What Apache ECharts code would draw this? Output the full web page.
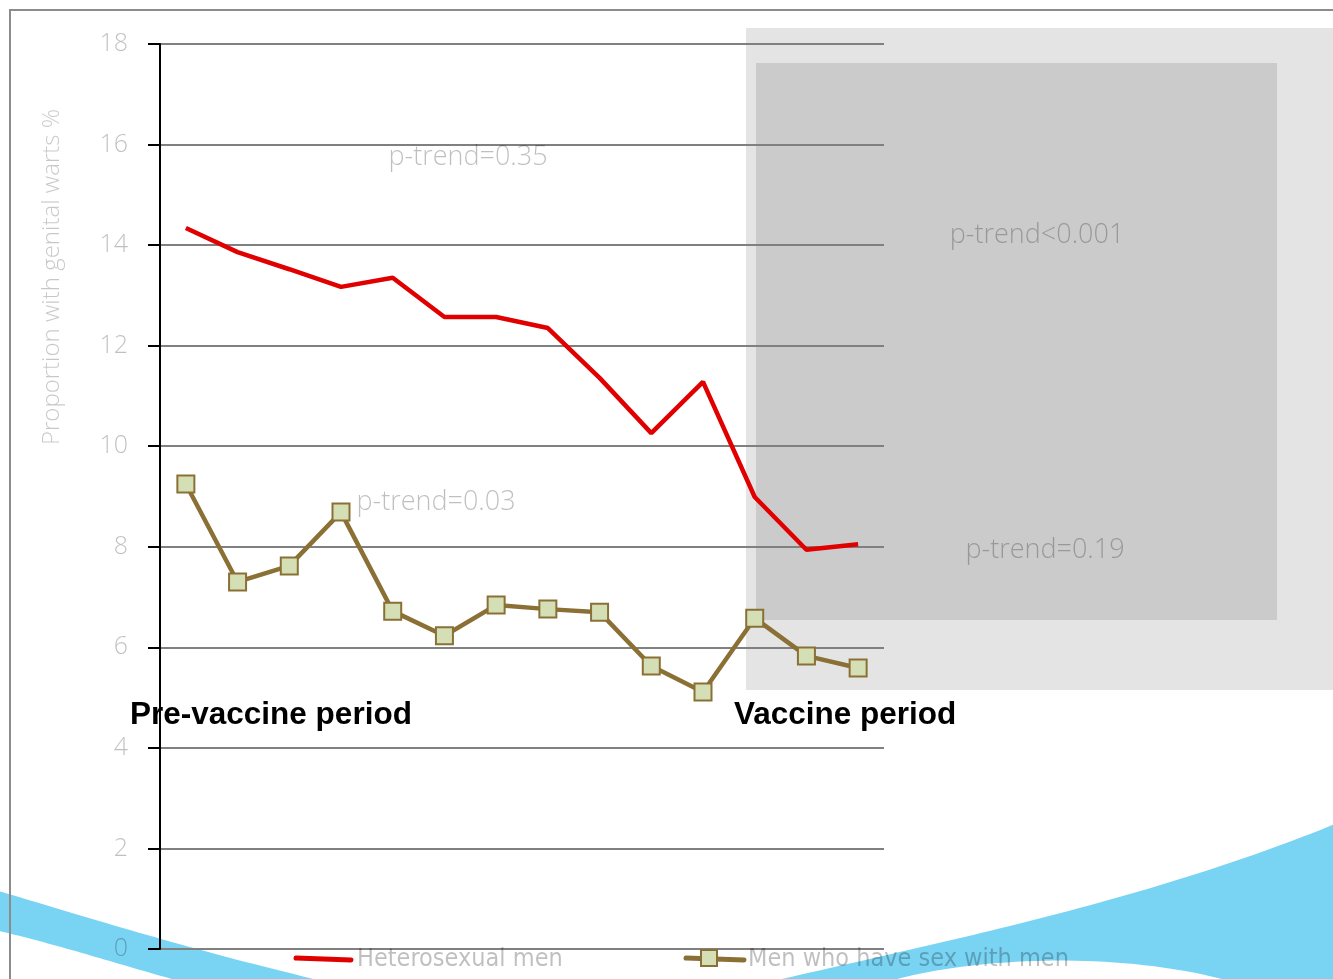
<!DOCTYPE html>
<html>
<head>
<meta charset="utf-8">
<title>Genital warts by period</title>
<script src="https://cdn.jsdelivr.net/npm/echarts@6/dist/echarts.min.js"></script>
<style>
  html, body { margin: 0; padding: 0; background: #ffffff; }
  #chart { width: 1333px; height: 979px; }
</style>
</head>
<body>
<div id="chart"></div>
<script>
// Survey periods (not labelled on the axis)
const periods = ['1', '2', '3', '4', '5', '6', '7', '8', '9', '10', '11', '12', '13', '14'];

// Proportion with genital warts, %
const heterosexualMen = [14.34, 13.86, 13.52, 13.17, 13.35, 12.57, 12.57, 12.35, 11.36, 10.26, 11.28, 8.99, 7.94, 8.05];
const msmMen = [9.25, 7.30, 7.62, 8.69, 6.72, 6.23, 6.84, 6.76, 6.70, 5.63, 5.11, 6.58, 5.83, 5.59];

// Y axis ticks
const yTicks = { min: 0, max: 18, step: 2 };

const seriesNames = ['Heterosexual men', 'Men who have sex with men'];
const yAxisTitle = 'Proportion with genital warts %';
const trendNotes = ['p-trend=0.35', 'p-trend<0.001', 'p-trend=0.03', 'p-trend=0.19'];
const periodNotes = ['Pre-vaccine period', 'Vaccine period'];

const RED = '#e00000';
const BROWN = '#8b7036';
const MARKER_FILL = '#d5dfb5';
const softText = 'rgba(0,0,0,0.25)';
const thinFont = "'Open Sans', 'DejaVu Sans', sans-serif";
const narrowFont = "'Liberation Sans Narrow', 'DejaVu Sans Condensed', sans-serif";
const BLUE = '#79d4f4';

// sample a cubic Bezier segment into polygon points
function cubic(p0, p1, p2, p3, n) {
  const pts = [];
  for (let i = 0; i <= n; i++) {
    const t = i / n, u = 1 - t;
    pts.push([
      u * u * u * p0[0] + 3 * u * u * t * p1[0] + 3 * u * t * t * p2[0] + t * t * t * p3[0],
      u * u * u * p0[1] + 3 * u * u * t * p1[1] + 3 * u * t * t * p2[1] + t * t * t * p3[1]
    ]);
  }
  return pts;
}

const leftSwoosh = cubic([-5, 890], [90, 918], [190, 950], [335, 984], 40)
  .concat(cubic([190, 984], [120, 965], [60, 945], [-5, 930], 40));
const rightSwoosh = cubic([760, 984], [950, 940], [1150, 900], [1340, 822], 60)
  .concat([[1340, 984]]);
const whiteBump = cubic([880, 984], [960, 958], [1120, 948], [1240, 984], 40);

const chart = echarts.init(document.getElementById('chart'), null, { renderer: 'canvas' });

function noteText(text, x, y) {
  return {
    type: 'text', x: x, y: y, z: 50,
    style: {
      text: text, fill: softText, font: '300 27px ' + thinFont,
      align: 'center', verticalAlign: 'middle'
    }
  };
}

function periodText(text, x) {
  return {
    type: 'text', x: x, y: 715, z: 55,
    style: { text: text, fill: '#000000', font: 'bold 31.5px "Liberation Sans", Arial, sans-serif', verticalAlign: 'middle' }
  };
}

// legend key drawn beneath the axis
const legendKey = [
  { type: 'line', z: 55, shape: { x1: 296, y1: 958, x2: 351, y2: 960 }, style: { stroke: RED, lineWidth: 5, lineCap: 'round' } },
  {
    type: 'text', x: 357, y: 959, z: 55,
    style: { text: seriesNames[0], fill: softText, font: '25px ' + narrowFont, verticalAlign: 'middle' }
  },
  { type: 'line', z: 55, shape: { x1: 686, y1: 958, x2: 744, y2: 960 }, style: { stroke: BROWN, lineWidth: 5, lineCap: 'round' } },
  { type: 'rect', z: 56, shape: { x: 701, y: 950, width: 16, height: 16 }, style: { fill: MARKER_FILL, stroke: BROWN, lineWidth: 2 } },
  {
    type: 'text', x: 748, y: 959, z: 55,
    style: { text: seriesNames[1], fill: softText, font: '25px ' + narrowFont, verticalAlign: 'middle' }
  }
];

chart.setOption({
  animation: false,
  backgroundColor: '#ffffff',
  grid: { left: 160, right: 449, top: 44, bottom: 30, containLabel: false },
  legend: { show: false },
  xAxis: {
    type: 'category',
    data: periods,
    boundaryGap: true,
    axisLine: { show: false },
    axisTick: { show: false },
    axisLabel: { show: false },
    splitLine: { show: false }
  },
  yAxis: {
    type: 'value',
    min: yTicks.min,
    max: yTicks.max,
    interval: yTicks.step,
    axisLine: { show: true, lineStyle: { color: '#000000', width: 2 } },
    axisTick: { show: true, length: 12, lineStyle: { color: '#000000', width: 2 } },
    axisLabel: {
      color: softText, fontSize: 25, fontFamily: thinFont, fontWeight: 300, margin: 32
    },
    splitLine: { show: true, lineStyle: { color: '#808080', width: 2 } }
  },
  graphic: [
    // shaded vaccine-period panels
    { type: 'rect', z: -20, shape: { x: 746, y: 28, width: 600, height: 662 }, style: { fill: '#e4e4e4' } },
    { type: 'rect', z: -19, shape: { x: 756, y: 63, width: 521, height: 557 }, style: { fill: '#cbcbcb' } },
    // decorative blue swooshes
    { type: 'polygon', z: -15, shape: { points: leftSwoosh }, style: { fill: BLUE } },
    { type: 'polygon', z: -15, shape: { points: rightSwoosh }, style: { fill: BLUE } },
    { type: 'polygon', z: -14, shape: { points: whiteBump }, style: { fill: '#ffffff' } },
    // outer frame
    { type: 'line', z: 60, shape: { x1: 9, y1: 10, x2: 1340, y2: 10 }, style: { stroke: '#8c8c8c', lineWidth: 2 } },
    { type: 'line', z: 60, shape: { x1: 10, y1: 9, x2: 10, y2: 985 }, style: { stroke: '#8c8c8c', lineWidth: 2 } },
    // axis title
    {
      type: 'text', x: 52, y: 277, rotation: Math.PI / 2, z: 50,
      style: {
        text: yAxisTitle, fill: 'rgba(0,0,0,0.22)', font: '300 24px ' + thinFont,
        align: 'center', verticalAlign: 'middle'
      }
    },
    // trend notes
    noteText(trendNotes[0], 468, 157),
    noteText(trendNotes[1], 1037, 235),
    noteText(trendNotes[2], 436, 502),
    noteText(trendNotes[3], 1045, 550),
    // period labels
    periodText(periodNotes[0], 130),
    periodText(periodNotes[1], 734)
  ].concat(legendKey),
  series: [
    {
      name: seriesNames[0],
      type: 'line',
      data: heterosexualMen,
      symbol: 'none',
      lineStyle: { color: RED, width: 4.5 },
      itemStyle: { color: RED },
      z: 5
    },
    {
      name: seriesNames[1],
      type: 'line',
      data: msmMen,
      symbol: 'rect',
      symbolSize: 17,
      lineStyle: { color: BROWN, width: 4.5 },
      itemStyle: { color: MARKER_FILL, borderColor: BROWN, borderWidth: 2 },
      z: 6
    }
  ]
});
</script>
</body>
</html>
